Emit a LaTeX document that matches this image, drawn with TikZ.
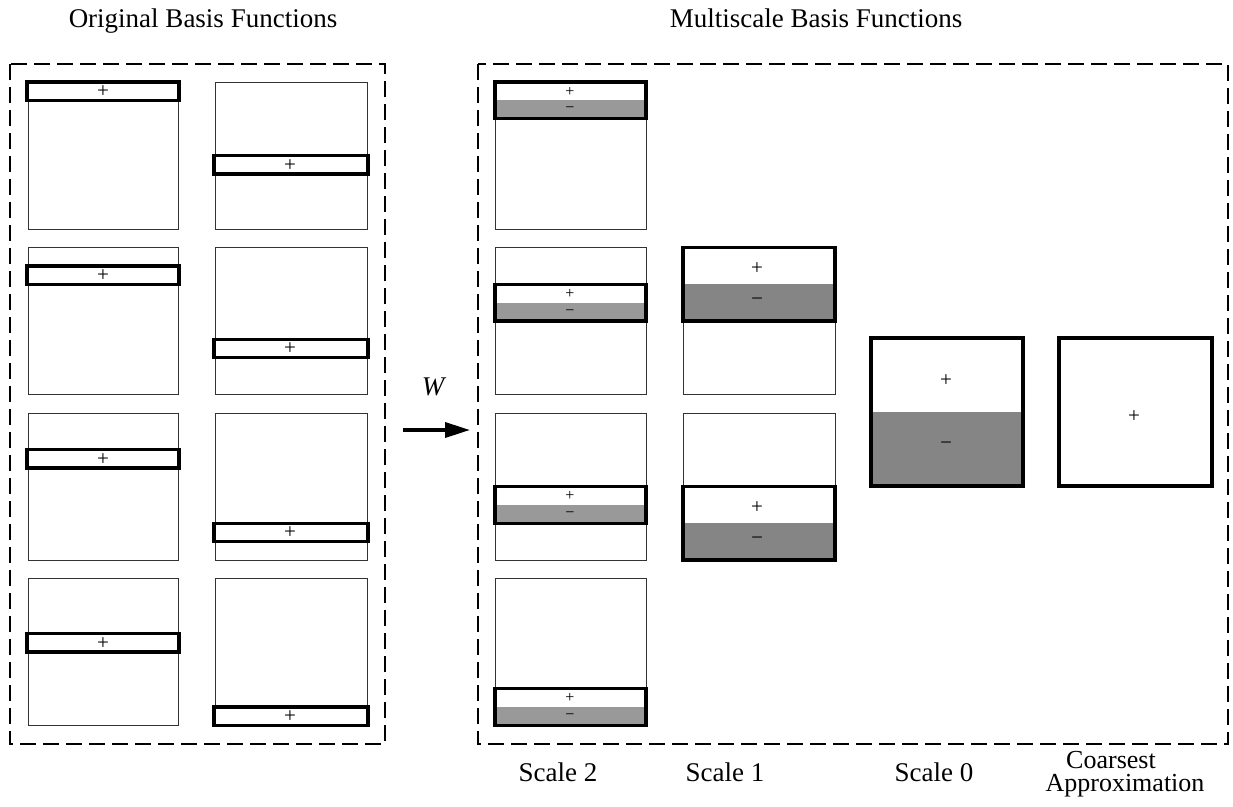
\documentclass[tikz,border=0pt]{standalone}
\usepackage{fontspec}
\setmainfont{Liberation Serif}
\usetikzlibrary{arrows.meta}
\begin{document}
\begin{tikzpicture}[x=1pt,y=-1pt,
  thinframe/.style={draw=black!80, line width=0.8pt},
  thickframe/.style={draw=black, line width=3.4pt},
  negA/.style={fill=black!40},
  negB/.style={fill=black!48},
  lbl/.style={font=\fontsize{27}{18}\selectfont, inner sep=0pt, anchor=base},
  sgn/.style={font=\fontsize{21}{21}\selectfont, inner sep=0pt},
  msgn/.style={font=\fontsize{21}{21}\selectfont\bfseries, inner sep=0pt, text=black!85},
  ssgn/.style={font=\fontsize{16}{16}\selectfont, inner sep=0pt},
  smsgn/.style={font=\fontsize{16}{16}\selectfont\bfseries, inner sep=0pt, text=black!85},
  outerbox/.style={draw=black, line width=2.2pt, dash pattern=on 16pt off 7pt}]
\useasboundingbox (0,0) rectangle (1233,806);

% titles
\node[lbl] (t1) at (203,27) {Original Basis Functions};
\node[lbl] (t2) at (816,27) {Multiscale Basis Functions};

% outer dashed boxes
\draw[outerbox] (10,64) rectangle (385,744);
\draw[outerbox] (478,64) rectangle (1228,744);

% ---- original basis functions ----
\foreach \t in {82,247.5,413,578.5} {
  \draw[thinframe] (28,\t) rectangle ++(150,147);
  \draw[thinframe] (215,\t) rectangle ++(152,147);
}
\foreach \t/\ka/\kb in {82/0/4, 247.5/1/5, 413/2/6, 578.5/3/7} {
  \pgfmathsetmacro\ya{\t+\ka*18.375}
  \pgfmathsetmacro\yb{\t+\kb*18.375}
  \draw[thickframe, fill=white] (27,\ya) rectangle (179,{\ya+18.375});
  \node[sgn] at (103,{\ya+9.6}) {+};
  \draw[thickframe, fill=white] (214,\yb) rectangle (368,{\yb+18.375});
  \node[sgn] at (290,{\yb+9.6}) {+};
}

% ---- scale 2 ----
\foreach \t [count=\j from 0] in {82,247.5,413,578.5} {
  \draw[thinframe] (495,\t) rectangle ++(151,147);
  \pgfmathsetmacro\ya{\t+\j*36.75}
  \fill[white] (495,\ya) rectangle (646,{\ya+18.375});
  \fill[negA] (495,{\ya+18.375}) rectangle (646,{\ya+36.75});
  \draw[thickframe] (495,\ya) rectangle (646,{\ya+36.75});
  \node[ssgn] at (570,{\ya+9.5}) {+};
  \node[smsgn] at (570,{\ya+28}) {−};
}

% ---- scale 1 ----
\draw[thinframe] (683,247.5) rectangle ++(152,147);
\draw[thinframe] (683,413) rectangle ++(152,147);
\fill[white] (683,247.5) rectangle (835,284.25);
\fill[negB] (683,284.25) rectangle (835,321);
\draw[thickframe] (683,247.5) rectangle (835,321);
\node[sgn] at (757,269) {+};
\node[msgn] at (757,302) {−};
\fill[white] (683,486.5) rectangle (835,523.25);
\fill[negB] (683,523.25) rectangle (835,560);
\draw[thickframe] (683,486.5) rectangle (835,560);
\node[sgn] at (757,508) {+};
\node[msgn] at (757,541) {−};

% ---- scale 0 ----
\fill[white] (871,338) rectangle (1023,412);
\fill[negB] (871,412) rectangle (1023,486);
\draw[thickframe] (871,338) rectangle (1023,486);
\node[sgn] at (946,381) {+};
\node[msgn] at (946,446) {−};

% ---- coarsest ----
\draw[thickframe, fill=white] (1059,338) rectangle (1212,486);
\node[sgn] at (1134,417) {+};

% ---- transform arrow ----
\node[font=\fontsize{27}{27}\selectfont\itshape, inner sep=0pt] (w) at (433,387) {W};
\coordinate (as) at (403,430);
\coordinate (ae) at (470,430);
\draw[line width=3.5pt, -{Triangle[length=25pt,width=15pt]}] (as) -- (ae);

% ---- bottom labels ----
\node[lbl] (s2) at (558,781) {Scale 2};
\node[lbl] (s1) at (725,781) {Scale 1};
\node[lbl] (s0) at (934,781) {Scale 0};
\node[font=\fontsize{26}{23}\selectfont, inner sep=0pt, align=center, anchor=base] (ca) at (1125,791) {Coarsest\hspace*{28pt}\\Approximation};
\end{tikzpicture}
\end{document}
